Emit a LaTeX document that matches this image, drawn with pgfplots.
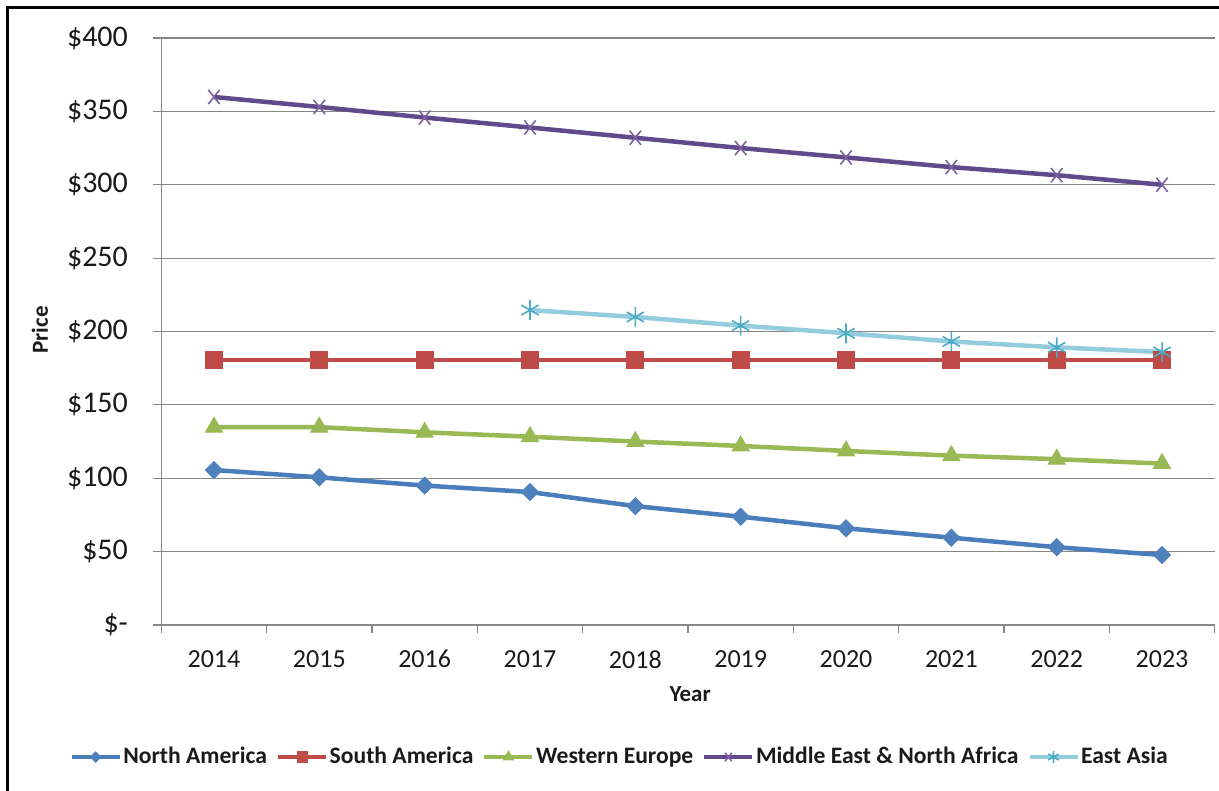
\documentclass[border=0pt]{standalone}
\usepackage{fontspec}
\setmainfont{Carlito}
\usepackage{pgfplots}
\pgfplotsset{compat=1.18}

\definecolor{naLine}{HTML}{4A7EBB}
\definecolor{naMark}{HTML}{4F81BD}
\definecolor{saCol}{HTML}{BE4B48}
\definecolor{weCol}{HTML}{98B954}
\definecolor{meLine}{HTML}{5F4A8B}
\definecolor{meMark}{HTML}{7D60A0}
\definecolor{eaLine}{HTML}{93CDDD}
\definecolor{eaMark}{HTML}{4BACC6}
\definecolor{axGray}{HTML}{868686}
\definecolor{txt}{HTML}{1A1A1A}

\begin{document}
\begin{tikzpicture}
\useasboundingbox (0,0) rectangle (609.5pt,395.5pt);
% frame along the top and left edges
\draw[line width=1.65pt] (3.85pt,0) -- (3.85pt,391.75pt) -- (609.5pt,391.75pt);

\begin{axis}[
  at={(80.65pt,83pt)}, anchor=south west,
  scale only axis,
  width=526.7pt, height=293.5pt,
  xmin=-0.5, xmax=9.5,
  ymin=0, ymax=400,
  axis x line*=bottom, axis y line*=left,
  axis line style={draw=axGray, line width=0.6pt, -},
  tick style={draw=axGray, line width=0.6pt},
  tick align=outside,
  major tick length=4pt,
  xtick={-0.5,0.5,...,9.5},
  x tick label as interval,
  xticklabels={2014,2015,2016,2017,2018,2019,2020,2021,2022,2023},
  xticklabel style={font=\fontsize{13}{15}\selectfont, text=txt, anchor=north, inner sep=0pt, yshift=-8.5pt},
  ytick={0,50,...,400},
  yticklabels={\$-\hspace{7pt},\$50,\$100,\$150,\$200,\$250,\$300,\$350,\$400},
  yticklabel style={font=\fontsize{15}{17}\selectfont, text=txt, anchor=east, inner sep=0pt, xshift=-12.5pt},
  ymajorgrids,
  grid style={draw=axGray, line width=0.6pt},
  xlabel={Year},
  ylabel={Price},
  x label style={font=\bfseries\fontsize{11.5}{13}\selectfont, text=txt, at={(axis description cs:0.502,-0.1175)}, anchor=center},
  y label style={font=\bfseries\fontsize{11.5}{13}\selectfont, text=txt, at={(axis description cs:-0.1152,0.5026)}, anchor=center},
  legend columns=5,
  legend style={draw=none, fill=none, at={(axis description cs:0.4354,-0.2249)}, anchor=center,
    font=\bfseries\fontsize{11.8}{13}\selectfont, text=txt,
    /tikz/every even column/.append style={column sep=3.75pt},
    nodes={inner sep=1pt}},
  legend image code/.code={
    \draw[mark repeat=2, mark phase=2, line width=1.6pt, every mark/.append style={scale=0.6}]
      plot coordinates {(0pt,0pt) (12pt,0pt) (24pt,0pt)};},
  every axis plot/.append style={line width=2.25pt},
]

\addplot[color=naLine, mark=square*, mark size=3pt,
  mark options={fill=naMark, draw=naMark, rotate=45, line width=0.5pt}]
  coordinates {(0,105.6) (1,100.6) (2,95) (3,90.6) (4,81) (5,73.8) (6,65.9) (7,59.5) (8,53) (9,47.7)};
\addlegendentry{North America}

\addplot[color=saCol, mark=square*, mark size=4.2pt,
  mark options={fill=saCol, draw=saCol, line width=0.5pt}]
  coordinates {(0,180.5) (1,180.5) (2,180.5) (3,180.5) (4,180.5) (5,180.5) (6,180.5) (7,180.5) (8,180.5) (9,180.5)};
\addlegendentry{South America}

\addplot[color=weCol, mark=triangle*, mark size=4.9pt,
  mark options={fill=weCol, draw=weCol, line width=0.5pt}]
  coordinates {(0,134.8) (1,134.8) (2,131.3) (3,128.3) (4,125) (5,122) (6,118.6) (7,115.4) (8,113) (9,110)};
\addlegendentry{Western Europe}

\addplot[color=meLine, mark=x, mark size=5pt,
  mark options={draw=meMark, line width=0.8pt, xscale=0.8}]
  coordinates {(0,359.8) (1,353) (2,345.8) (3,339) (4,332) (5,325) (6,318.6) (7,312) (8,306.5) (9,300)};
\addlegendentry{Middle East \& North Africa}

\addplot[color=eaLine, mark=asterisk, mark size=5pt,
  mark options={draw=eaMark, line width=0.8pt}]
  coordinates {(3,214.6) (4,209.9) (5,204) (6,198.8) (7,193.2) (8,189.2) (9,186)};
\addlegendentry{East Asia}

\end{axis}
\end{tikzpicture}
\end{document}
